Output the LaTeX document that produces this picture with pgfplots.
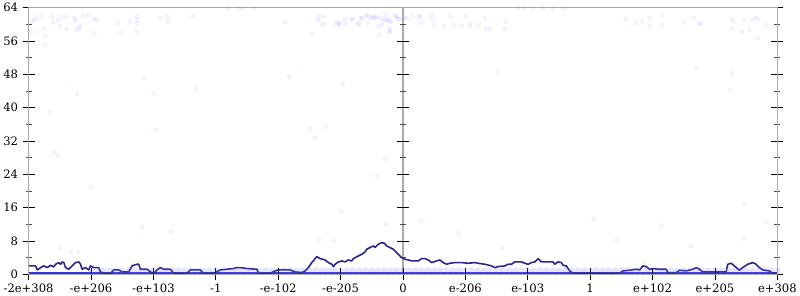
\documentclass[border=0pt]{standalone}
\usepackage{pgfplots}
\pgfplotsset{compat=1.18}
\usepackage{fontspec}
\setmainfont{DejaVu Serif}
\definecolor{axgray}{RGB}{170,170,170}
\definecolor{navyline}{RGB}{40,40,140}
\definecolor{ptc}{RGB}{120,120,255}
\definecolor{zeroband}{RGB}{55,55,225}
\begin{document}
\begin{tikzpicture}
\begin{axis}[
  scale only axis, width=750pt, height=267pt,
  xmin=0, xmax=12, ymin=0, ymax=64,
  clip=false, axis on top,
  axis line style={axgray, line width=1.5pt},
  xtick={0,...,12},
  xticklabels={-2e+308,-e+206,-e+103,-1,-e-102,-e-205,0,e-206,e-103,1,e+102,e+205,e+308},
  ytick={0,8,...,64}, minor ytick={4,12,...,60},
  xtick pos=left, ytick pos=both, yticklabel pos=left,
  tick align=center,
  major tick length=12pt, minor tick length=6pt,
  every major tick/.append style={black, line width=0.8pt},
  every minor tick/.append style={black!70, line width=0.8pt},
  ticklabel style={font=\fontsize{11.6}{13}\selectfont},
  /pgf/number format/assume math mode=true,
  yticklabel style={xshift=-1pt},
]
% center line with ticks
\draw[axgray, line width=1.5pt] (axis cs:6,0) -- (axis cs:6,64);
\pgfplotsinvokeforeach{0,8,16,24,32,40,48,56,64}{
  \draw[black, line width=0.8pt] ([xshift=-6pt]axis cs:6,#1) -- ([xshift=6pt]axis cs:6,#1);
}
\pgfplotsinvokeforeach{4,12,20,28,36,44,52,60}{
  \draw[black!70, line width=0.8pt] ([xshift=-3pt]axis cs:6,#1) -- ([xshift=3pt]axis cs:6,#1);
}
% scattered samples
\addplot[only marks, mark=*, mark size=2.1pt,
  mark options={draw=ptc, fill=ptc, draw opacity=0.12, fill opacity=0.07}]
coordinates {
(0.059,60.7) (0.085,61.1) (0.128,61.3) (0.192,62.1) (0.043,58.1) (0.245,58.9) (0.272,57.3) (0.256,55.1)
(0.379,61.9) (0.395,60.5) (0.469,61.0) (0.501,59.5) (0.523,61.8) (0.608,61.8) (0.608,58.9) (0.736,61.5)
(0.752,60.7) (0.768,58.7) (0.805,59.1) (0.832,59.5) (0.875,62.1) (0.949,62.2) (1.056,61.3) (1.088,61.1)
(1.056,57.8) (1.429,60.3) (1.483,57.9) (1.632,60.5) (1.728,61.8) (1.749,61.0) (1.739,60.2) (1.728,58.3)
(2.112,61.5) (2.219,61.8) (2.229,60.7) (2.635,61.8)
(3.189,63.9) (3.365,63.9) (3.435,64) (3.616,63.9) (4.107,60.6) (4.544,57.7) (4.64,61.1) (4.661,61.8)
(4.725,61.9) (4.704,59.9) (4.747,60.2) (4.949,60.2) (4.981,60.2) (5.072,61.3) (5.072,60.2) (5.184,61.3)
(5.291,60.2) (5.323,61.4) (5.429,62.1) (5.44,60.2) (5.483,61.8) (5.536,61.8) (5.579,61.8) (5.605,59.5)
(5.659,59.9) (5.621,57.5) (5.685,61.0) (5.739,62.1) (5.749,61.0) (5.792,60.7) (5.792,59.1) (5.792,58.2)
(5.888,62.1) (5.925,61.3)
(4.939,60.3) (4.992,59.9) (5.179,61.3) (5.285,60.2) (5.339,61.5) (5.419,62.1) (5.499,61.5) (5.552,61.5)
(5.632,61.5) (5.712,61.1) (5.765,61.0) (5.781,58.3) (5.819,60.7) (5.872,62.1) (5.899,61.5) (5.952,61.3)
(6.059,61.5) (6.155,62.1) (6.261,61.9) (6.283,60.3) (6.459,62.1) (6.485,61.0) (6.496,59.7) (6.656,59.5)
(6.763,62.1) (6.816,59.7) (6.939,59.7) (7.008,62.1)
(6.032,61.5) (6.261,61.8) (7.072,59.5) (7.083,60.2) (7.221,59.9) (7.312,61.5) (7.328,58.9) (7.392,58.9)
(7.632,58.9) (7.648,60.7) (7.845,64) (7.95,64) (8.085,64) (8.245,64) (8.405,63.9) (8.565,63.9)
(9.568,61.3) (9.749,60.3) (9.835,60.7) (9.952,61.5) (9.952,59.5) (10.155,62.1) (10.155,59.7) (10.512,60.5)
(10.656,61.5) (10.741,60.2) (10.779,60.2) (11.275,61.3) (11.296,60.7) (11.275,58.9) (11.435,58.3) (11.472,61.0)
(11.552,58.7) (11.595,61.0) (11.648,61.5) (11.685,61.3) (11.808,59.9) (11.685,56.7)
(1.845,47.2) (0.779,43.4) (2.016,43.4) (2.688,44.5) (4.181,47.4) (5.035,45.8) (7.525,48.7) (10.709,49.5)
(11.275,48.2) (11.243,44.3) (0.341,38.9) (0.416,29.3) (0.469,28.5) (1.003,21.0) (2.048,34.6) (4.512,34.9)
(4.592,32.8) (4.768,35.5) (5.589,23.7) (5.712,27.8) (0.501,6.4) (0.683,5.36) (0.789,5.36) (1.819,11.4)
(2.283,10.1) (5.008,15.2) (4.656,8.2) (4.885,8.0) (5.739,12.0) (6.288,12.8) (6.896,10.0) (7.589,6.4)
(9.056,13.3) (9.429,8.2) (10.139,11.7) (10.619,6.8) (11.472,17.0) (11.829,12.5) (11.456,8.6) (9.872,2.96)
};
% dense samples near one
\addplot[only marks, mark=*, mark size=3.2pt,
  mark options={draw=ptc, fill=ptc, draw opacity=0.0, fill opacity=0.2}]
coordinates {
(1.0,0.9) (1.1,0.9) (1.2,0.9) (1.3,0.9) (1.4,0.9) (1.5,0.9) (1.6,0.9) (1.7,0.9) (1.8,0.9) (1.9,0.9)
(2.0,0.9) (2.1,0.9) (2.2,0.9) (2.3,0.9) (2.4,0.9) (2.5,0.9) (2.6,0.9) (2.7,0.9) (2.8,0.9) (2.9,0.9)
(3.0,0.9) (3.1,0.9) (3.2,0.9) (3.3,0.9) (3.4,0.9) (3.5,0.9) (3.6,0.9) (3.7,0.9) (3.8,0.9) (3.9,0.9)
(4.0,0.9) (4.1,0.9) (4.2,0.9) (4.3,0.9) (4.4,0.9) (4.5,0.9) (4.6,0.9) (4.7,0.9) (4.8,0.9) (4.9,0.9)
(5.0,0.9) (5.1,0.9) (5.2,0.9) (5.3,0.9) (5.4,0.9) (5.5,0.9) (5.6,0.9) (5.7,0.9) (5.8,0.9) (5.9,0.9)
(6.0,0.9) (6.1,0.9) (6.2,0.9) (6.3,0.9) (6.4,0.9) (6.5,0.9) (6.6,0.9) (6.7,0.9) (6.8,0.9) (6.9,0.9)
(7.0,0.9) (7.1,0.9) (7.2,0.9) (7.3,0.9) (7.4,0.9) (7.5,0.9) (7.6,0.9) (7.7,0.9) (7.8,0.9) (7.9,0.9)
(8.0,0.9) (8.1,0.9) (8.2,0.9) (8.3,0.9) (8.4,0.9) (8.5,0.9) (8.6,0.9) (8.7,0.9) (8.8,0.9) (8.9,0.9)
(9.0,0.9) (9.1,0.9) (9.2,0.9) (9.3,0.9) (9.4,0.9) (9.5,0.9) (9.6,0.9) (9.7,0.9) (9.8,0.9) (9.9,0.9)
(10.0,0.9) (10.1,0.9) (10.2,0.9) (10.3,0.9) (10.4,0.9) (10.5,0.9) (10.6,0.9) (10.7,0.9) (10.8,0.9) (10.9,0.9)
(11.0,0.9) (11.1,0.9) (11.2,0.9) (11.3,0.9) (11.4,0.9) (11.5,0.9) (11.6,0.9) (11.7,0.9) (11.8,0.9) (11.9,0.9) (12.0,0.9)
};
% dense samples at zero
\addplot[zeroband, line width=3.4pt, line cap=butt] coordinates {(0,0.15) (12,0.15)};
% running average
\addplot[navyline, line width=1.6pt, line join=round] coordinates {
(0,2.0) (0.112,2.0) (0.139,1.04) (0.192,1.6) (0.245,2.0) (0.299,1.6) (0.352,2.16) (0.405,1.76)
(0.432,2.4) (0.485,2.8) (0.512,2.4) (0.539,2.96) (0.565,2.8) (0.592,1.6) (0.645,1.2) (0.699,2.0)
(0.752,2.8) (0.805,2.96) (0.832,2.4) (0.859,1.2) (0.912,1.6) (0.965,1.04) (0.992,2.0) (1.045,1.6)
(1.125,1.6) (1.152,0.56) (1.205,0.24) (1.312,0.24) (1.365,1.04) (1.445,1.04) (1.499,0.56) (1.605,0.56)
(1.659,2.0) (1.685,2.16) (1.739,2.4) (1.765,2.4) (1.792,1.2) (1.899,1.2) (1.952,0.56) (2.005,0.24)
(2.059,1.04) (2.112,1.6) (2.165,1.2) (2.272,1.2) (2.325,0.24) (2.539,0.24) (2.592,1.04) (2.752,1.04)
(2.805,0.24) (2.965,0.24) (3.072,1.04) (3.285,1.36) (3.339,1.6) (3.392,1.6) (3.499,1.36) (3.659,1.2)
(3.685,0.24) (3.872,0.24)
(3.952,0.8) (4.005,1.04) (4.192,1.04) (4.272,0.56) (4.379,0.4) (4.432,0.8) (4.485,1.6) (4.539,2.8)
(4.619,4.24) (4.672,3.76) (4.752,3.44) (4.805,2.8) (4.859,2.4) (4.885,1.84) (4.912,2.4) (4.965,2.96)
(5.019,3.2) (5.072,2.96) (5.125,3.44) (5.179,3.2) (5.205,3.76) (5.285,4.4) (5.339,4.8) (5.392,5.36)
(5.419,6.0) (5.472,6.4) (5.525,6.8) (5.552,6.4) (5.605,7.2) (5.659,7.6) (5.701,7.44) (5.739,6.8)
(5.792,6.4) (5.845,6.0) (5.899,5.2) (5.952,4.4) (5.979,4.0) (6.032,3.6) (6.085,3.44) (6.139,3.2)
(6.245,3.2) (6.299,3.76) (6.352,3.76) (6.405,3.44) (6.459,2.8) (6.539,3.2) (6.592,3.44) (6.645,2.8)
(6.699,2.4) (6.752,2.64) (6.832,2.8) (6.939,2.8) (7.045,2.64) (7.152,2.8) (7.205,2.64) (7.312,2.4)
(7.419,2.0) (7.472,1.6) (7.525,1.84) (7.632,2.0) (7.685,2.4) (7.739,2.4) (7.792,2.96) (7.899,2.96)
(7.952,2.64) (8.005,2.4) (8.059,2.8)
(8.112,2.96) (8.165,3.76) (8.219,2.96) (8.405,2.96) (8.432,2.4) (8.485,2.96) (8.539,2.8) (8.565,2.16)
(8.619,2.0) (8.672,0.8) (8.725,0.24) (9.472,0.24) (9.525,0.8) (9.632,0.96) (9.739,1.2) (9.792,1.04)
(9.845,2.0) (9.899,1.84) (9.952,1.2) (10.032,1.36) (10.085,1.2) (10.219,1.2) (10.245,0.4) (10.379,0.4)
(10.432,0.96) (10.539,0.8) (10.645,1.2) (10.699,1.6) (10.752,1.2) (10.805,0.56) (11.179,0.56) (11.205,2.4)
(11.259,2.64) (11.312,2.0) (11.392,0.96) (11.445,1.6) (11.525,2.4) (11.605,2.8) (11.659,2.4) (11.712,1.6)
(11.765,1.04) (11.872,0.8) (11.925,0.24) (12.0,0.24)
};
\end{axis}
\end{tikzpicture}
\end{document}
